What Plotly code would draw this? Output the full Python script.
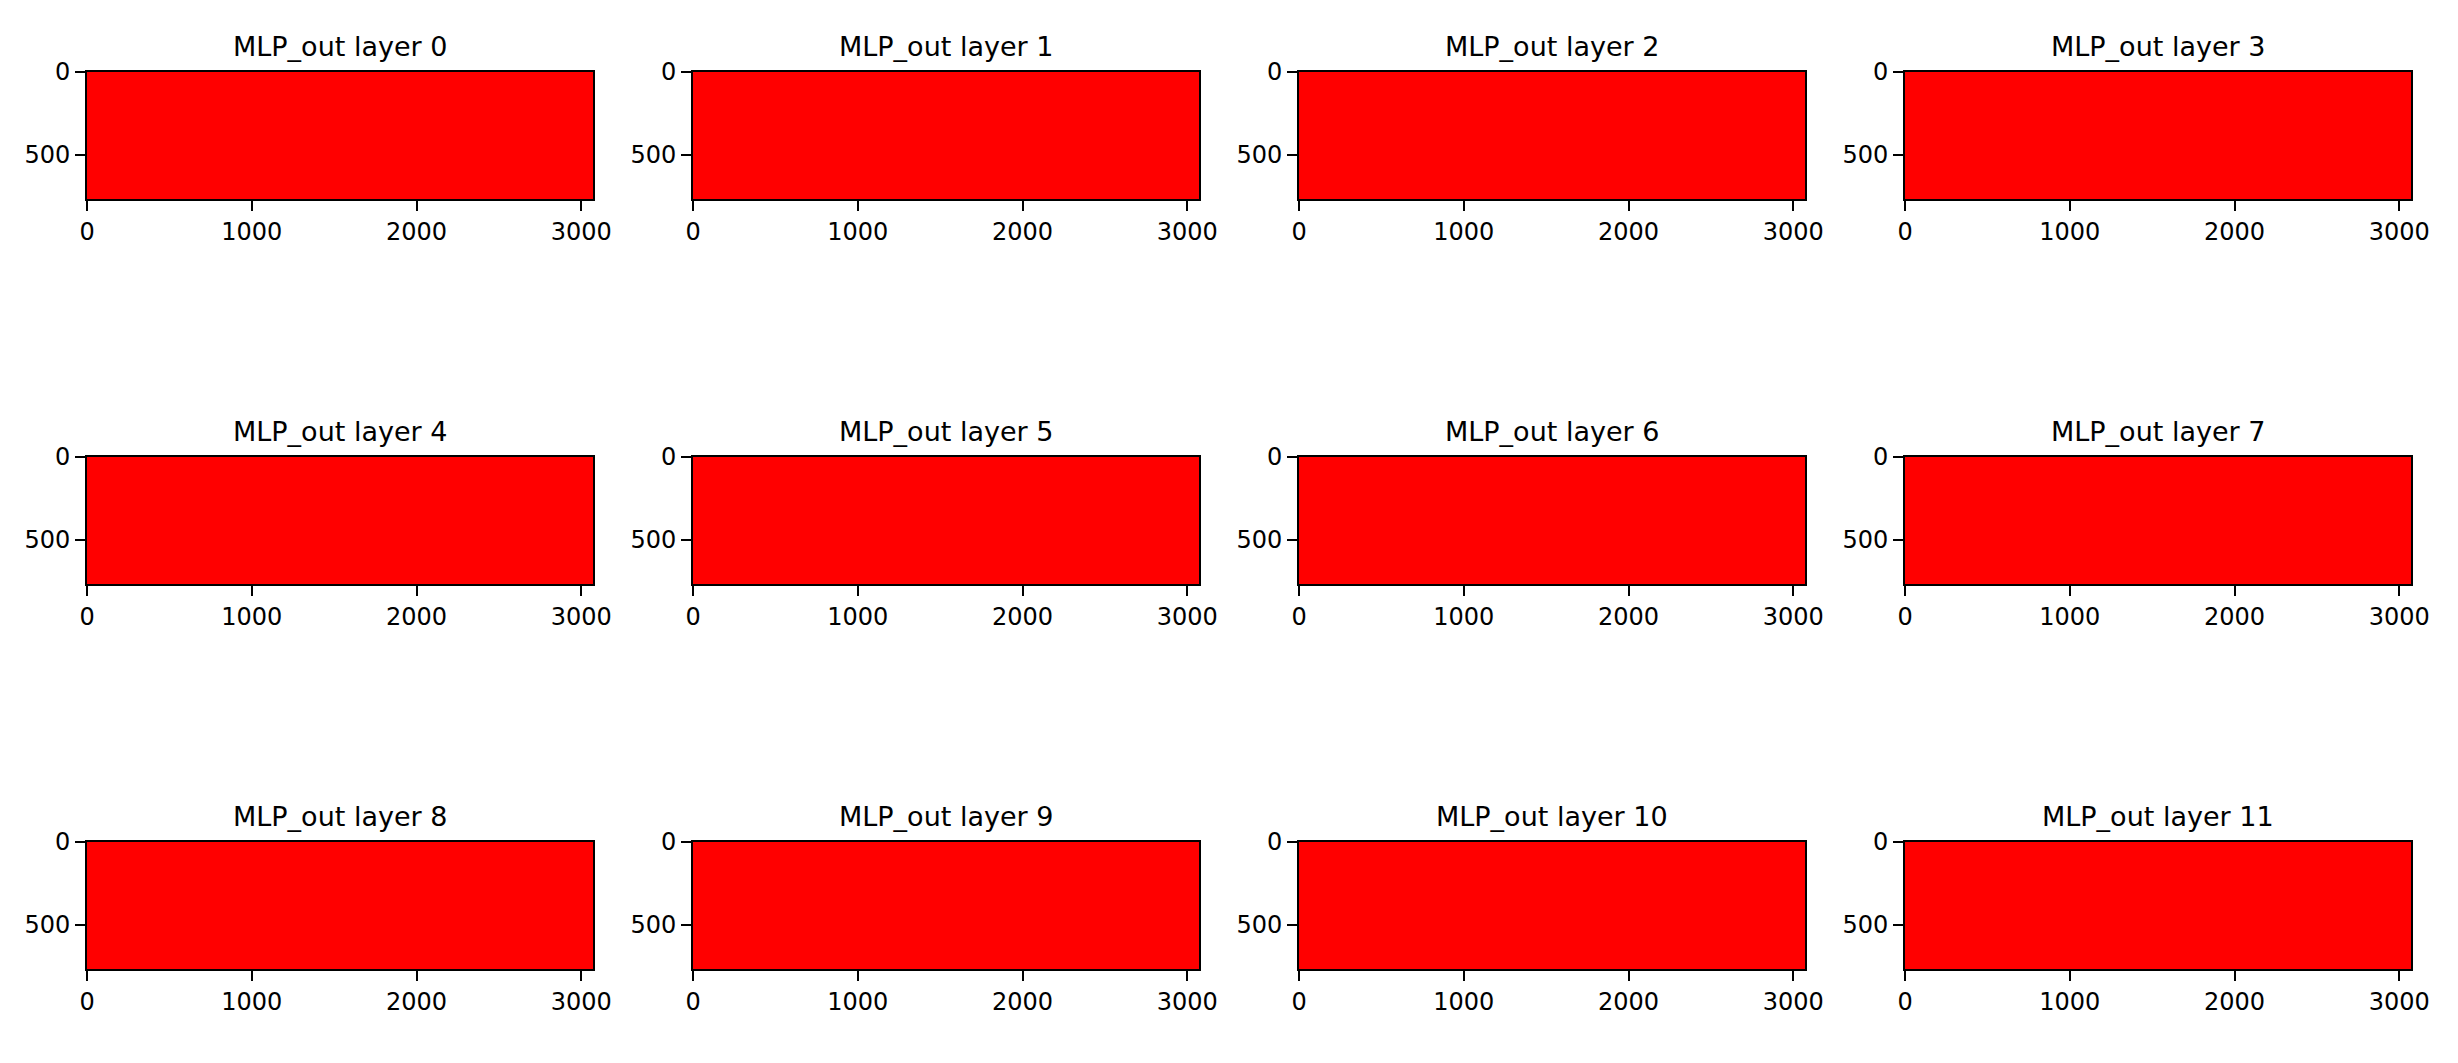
import plotly.graph_objects as go

# ---- data ----
layer_ids = [0, 1, 2, 3, 4, 5, 6, 7, 8, 9, 10, 11]
layer_titles = [f"MLP_out layer {i}" for i in layer_ids]
# every panel is uniformly saturated red (max of the diverging colormap)
layer_values = [1.0, 1.0, 1.0, 1.0, 1.0, 1.0, 1.0, 1.0, 1.0, 1.0, 1.0, 1.0]
n_rows = 768      # matrix height (y extent)
n_cols = 3072     # matrix width (x extent)
x_ticks = [0, 1000, 2000, 3000]
y_ticks = [0, 500]

# ---- layout (pixels of the 2458x1063 page; body has an 8px default margin) ----
PAGE_MARGIN = 8
W, H = 2458 - 2 * PAGE_MARGIN, 1063 - 2 * PAGE_MARGIN - 2
col_left0, col_pitch, panel_w = 87 - PAGE_MARGIN, 606, 506
row_top0, row_pitch, panel_h = 72 - PAGE_MARGIN, 385, 127
bleed = 0.02  # draw the single uniform cell slightly past the axis edges (clipped) to avoid seams

bwr = [[0.0, "rgb(0,0,255)"], [0.5, "rgb(255,255,255)"], [1.0, "rgb(255,0,0)"]]
font_family = "DejaVu Sans"

fig = go.Figure()
annotations = []
for k, lid in enumerate(layer_ids):
    r, c = divmod(k, 4)
    ax = "" if k == 0 else str(k + 1)
    x0 = (col_left0 + c * col_pitch) / W
    x1 = (col_left0 + c * col_pitch + panel_w) / W
    ytop = 1 - (row_top0 + r * row_pitch) / H
    ybot = 1 - (row_top0 + r * row_pitch + panel_h) / H

    fig.add_trace(go.Heatmap(
        z=[[layer_values[k]]],
        x0=(n_cols - 1) / 2, dx=n_cols * (1 + bleed),
        y0=(n_rows - 1) / 2, dy=n_rows * (1 + bleed),
        colorscale=bwr, zmin=-1, zmax=1, showscale=False,
        xaxis="x" + ax, yaxis="y" + ax,
    ))
    axis_common = dict(
        showline=True, linecolor="black", linewidth=2, mirror=True,
        ticks="outside", ticklen=10, tickwidth=2, tickcolor="black",
        showgrid=False, zeroline=False, automargin=False,
        tickfont=dict(family=font_family, size=24, color="black"),
        fixedrange=True,
    )
    fig.layout["xaxis" + ax] = dict(
        domain=[x0, x1], anchor="y" + ax,
        range=[-0.5, n_cols - 0.5], tickvals=x_ticks,
        ticktext=[str(v) for v in x_ticks], **axis_common)
    fig.layout["yaxis" + ax] = dict(
        domain=[ybot, ytop], anchor="x" + ax,
        range=[n_rows - 0.5, -0.5], tickvals=y_ticks,
        ticktext=[str(v) for v in y_ticks], **axis_common)
    annotations.append(dict(
        text=layer_titles[k], xref="paper", yref="paper",
        x=(x0 + x1) / 2, y=ytop, xanchor="center", yanchor="bottom",
        yshift=8, showarrow=False,
        font=dict(family=font_family, size=27, color="black"),
    ))

fig.update_layout(
    width=W, height=H, margin=dict(l=0, r=0, t=0, b=0, autoexpand=False),
    paper_bgcolor="white", plot_bgcolor="white",
    annotations=annotations, showlegend=False,
)
fig.write_html("out.html")
